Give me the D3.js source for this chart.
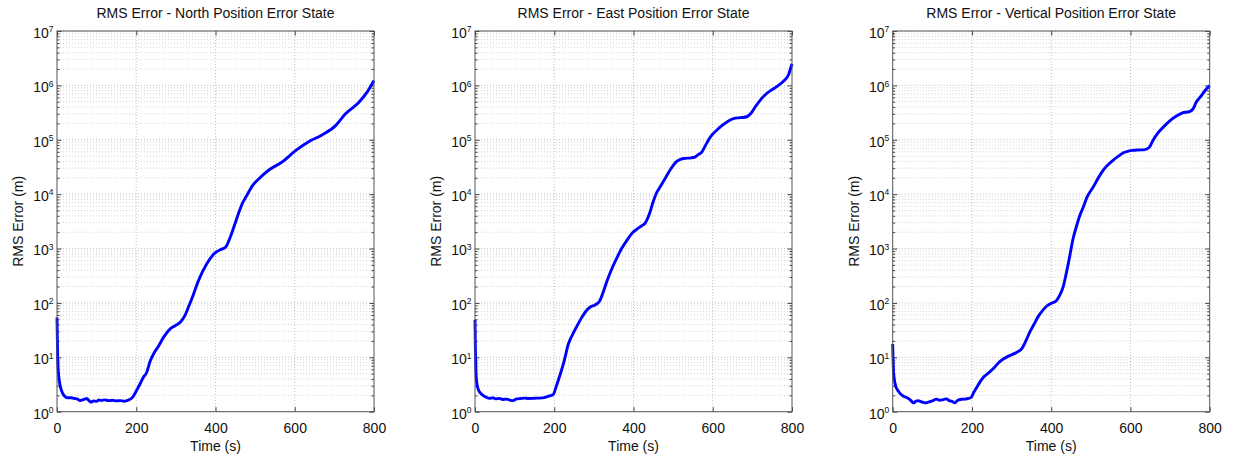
<!DOCTYPE html>
<html lang="en">
<head>
    <meta charset="UTF-8">
    <title>RMS Error</title>
    <style>
        body { margin: 0; background: #fff; }
        text { font-family: "Liberation Sans", Arial, sans-serif; fill: #111; }
        .grid-major { stroke: #b0b0b0; stroke-width: 0.8; stroke-dasharray: 1,2; }
        .grid-minor { stroke: #c8c8c8; stroke-width: 0.8; stroke-dasharray: 1,2; }
        .tick line { stroke: #444; }
        .rms { fill: none; stroke: #0000ff; stroke-width: 2.9; stroke-linejoin: round; }
    </style>
</head>
<body>
<svg id="chart"></svg>
<script src="https://cdnjs.cloudflare.com/ajax/libs/d3/7.8.5/d3.min.js"></script>
<script>
    var width = 1234;
    var height = 464;

    // titles of the three panels
    var titles = ["RMS Error - North Position Error State",
                  "RMS Error - East Position Error State",
                  "RMS Error - Vertical Position Error State"];
    var xTicks = [0, 200, 400, 600, 800];
    var yDecades = [0, 1, 2, 3, 4, 5, 6, 7];

    // north (time s, rms m)
    var northT = [0, 1, 2, 4, 8, 14, 20, 26, 35, 45, 52, 58, 64, 70, 75, 80, 86, 92, 100, 106,
        112, 120, 130, 140, 150, 160, 170, 178, 185, 192, 200, 210, 218, 226, 235, 245, 256, 270,
        285, 298, 311, 323, 332, 340, 357, 378, 399, 412, 425, 437, 448, 458, 468, 479, 494, 509,
        534, 568, 602, 636, 669, 703, 728, 762, 783, 800];
    var northV = [54, 20, 8, 4.8, 3.0, 2.2, 1.9, 1.8, 1.8, 1.75, 1.7, 1.6, 1.65, 1.7, 1.75, 1.62,
        1.5, 1.58, 1.55, 1.65, 1.6, 1.65, 1.6, 1.62, 1.58, 1.6, 1.55, 1.62, 1.7, 1.9, 2.4, 3.3,
        4.3, 5.2, 8.5, 12, 16, 24, 33, 38, 44, 59, 85, 118, 257, 525, 830, 950, 1050, 1600, 2700,
        4400, 6800, 9500, 14500, 19000, 27500, 39000, 63000, 93000, 123000, 182000, 300000,
        490000, 760000, 1230000];

    // east
    var eastT = [0, 1, 2, 4, 8, 14, 20, 28, 37, 45, 52, 61, 70, 80, 90, 96, 105, 115, 125, 135,
        150, 163, 175, 188, 197, 205, 214, 225, 235, 246, 256, 268, 281, 292, 302, 315, 325, 332,
        345, 357, 370, 383, 396, 408, 420, 429, 440, 449, 458, 467, 479, 494, 509, 520, 530, 545,
        555, 563, 572, 584, 597, 610, 623, 637, 652, 670, 686, 697, 707, 722, 736, 751, 766, 779,
        791, 800];
    var eastV = [49, 15, 6.5, 3.6, 2.6, 2.2, 2.0, 1.85, 1.76, 1.8, 1.72, 1.76, 1.68, 1.7, 1.62,
        1.6, 1.72, 1.75, 1.78, 1.75, 1.77, 1.78, 1.82, 1.95, 2.05, 2.9, 4.6, 8.5, 17, 26, 36, 52,
        72, 85, 91, 110, 170, 240, 420, 650, 1000, 1400, 1900, 2250, 2600, 2900, 4300, 7000,
        10500, 13500, 19000, 29000, 40000, 44000, 45500, 46500, 48000, 53000, 59000, 85000,
        120000, 150000, 182000, 215000, 245000, 255000, 265000, 310000, 400000, 560000, 710000,
        850000, 1000000, 1200000, 1550000, 2500000];

    // vertical
    var vertT = [0, 1, 2, 4, 8, 14, 19, 26, 35, 42, 48, 52, 58, 64, 70, 77, 84, 92, 100, 105,
        111, 118, 125, 131, 136, 142, 150, 157, 163, 170, 180, 190, 197, 205, 212, 220, 229, 240,
        254, 266, 279, 292, 308, 318, 325, 336, 346, 357, 367, 378, 388, 400, 413, 422, 430, 438,
        447, 455, 464, 472, 481, 491, 506, 519, 531, 544, 556, 570, 582, 595, 607, 620, 636, 647,
        657, 670, 686, 700, 715, 730, 749, 758, 766, 777, 787, 800];
    var vertV = [17.6, 9, 5.5, 4.0, 2.9, 2.4, 2.15, 1.95, 1.82, 1.7, 1.55, 1.45, 1.55, 1.6, 1.55,
        1.48, 1.45, 1.52, 1.58, 1.65, 1.7, 1.62, 1.65, 1.7, 1.72, 1.6, 1.55, 1.45, 1.6, 1.68, 1.7,
        1.75, 1.8, 2.3, 2.8, 3.5, 4.3, 5.0, 6.2, 7.8, 9.3, 10.5, 11.8, 13, 14.2, 20, 29, 41, 56,
        72, 87, 98, 110, 140, 195, 350, 740, 1500, 2600, 4000, 5800, 9000, 13500, 20000, 27500,
        35000, 42000, 50000, 57500, 62000, 64000, 65000, 66000, 72000, 98000, 135000, 180000,
        225000, 270000, 310000, 330000, 370000, 490000, 620000, 780000, 990000];

    var series = [[northT, northV], [eastT, eastV], [vertT, vertV]];

    var panelLeft = [57, 475, 892.7];
    var plotTop = 31, plotW = 317, plotH = 380.7;

    var svg = d3.select("#chart")
        .attr("width", width)
        .attr("height", height);

    var x = d3.scaleLinear().domain([0, 800]).range([0, plotW]);
    var y = d3.scaleLog().domain([1, 1e7]).range([plotH, 0]);

    var minors = [];
    yDecades.slice(0, -1).forEach(function(d) {
        for (var k = 2; k <= 9; k++) minors.push(k * Math.pow(10, d));
    });
    var majors = yDecades.map(function(d) { return Math.pow(10, d); });

    // put 10^n labels on a y axis
    function powerLabels(sel) {
        sel.selectAll(".tick text").each(function(d) {
            var t = d3.select(this).text(null);
            t.append("tspan").text("10");
            t.append("tspan").attr("dy", "-0.65em").style("font-size", "8.5px")
                .text(Math.round(Math.log10(d)));
        });
    }

    titles.forEach(function(title, i) {
        var g = svg.append("g")
            .attr("transform", "translate(" + panelLeft[i] + "," + plotTop + ")");

        // grid
        g.selectAll(".grid-minor").data(minors).enter().append("line")
            .attr("class", "grid-minor")
            .attr("x1", 0).attr("x2", plotW)
            .attr("y1", function(d) { return y(d); }).attr("y2", function(d) { return y(d); });
        g.selectAll(".grid-major").data(majors).enter().append("line")
            .attr("class", "grid-major")
            .attr("x1", 0).attr("x2", plotW)
            .attr("y1", function(d) { return y(d); }).attr("y2", function(d) { return y(d); });
        g.selectAll(".grid-x").data(xTicks.slice(1, -1)).enter().append("line")
            .attr("class", "grid-major")
            .attr("y1", 0).attr("y2", plotH)
            .attr("x1", function(d) { return x(d); }).attr("x2", function(d) { return x(d); });

        // ticks, inward on all sides
        g.append("g").call(d3.axisLeft(y).tickValues(minors).tickSize(-2.5).tickFormat(""));
        g.append("g").attr("transform", "translate(" + plotW + ",0)")
            .call(d3.axisRight(y).tickValues(minors).tickSize(-2.5).tickFormat(""));
        g.append("g").attr("transform", "translate(" + plotW + ",0)")
            .call(d3.axisRight(y).tickValues(majors).tickSize(-4.5).tickFormat(""));
        g.append("g").call(d3.axisTop(x).tickValues(xTicks).tickSize(-4.5).tickFormat(""));

        var yAxis = g.append("g")
            .call(d3.axisLeft(y).tickValues(majors).tickSize(-4.5).tickPadding(3.5));
        yAxis.selectAll("text").style("font-size", "14px").attr("dy", "0.45em");
        powerLabels(yAxis);

        var xAxis = g.append("g").attr("transform", "translate(0," + plotH + ")")
            .call(d3.axisBottom(x).tickValues(xTicks).tickSize(-4.5).tickPadding(11));
        xAxis.selectAll("text").style("font-size", "14px");

        g.selectAll(".domain").remove();

        // line
        var pts = d3.zip(series[i][0], series[i][1]);
        g.append("path")
            .datum(pts)
            .attr("class", "rms")
            .attr("d", d3.line()
                .curve(d3.curveMonotoneX)
                .x(function(d) { return x(d[0]); })
                .y(function(d) { return y(d[1]); }));

        // box
        g.append("rect")
            .attr("width", plotW).attr("height", plotH)
            .attr("fill", "none").attr("stroke", "#555").attr("stroke-width", 1);

        g.append("text")
            .attr("x", plotW / 2).attr("y", -13)
            .attr("text-anchor", "middle")
            .style("font-size", "14px")
            .text(title);

        g.append("text")
            .attr("x", plotW / 2).attr("y", plotH + 39.5)
            .attr("text-anchor", "middle")
            .style("font-size", "14px")
            .text("Time (s)");

        g.append("text")
            .attr("transform", "translate(-34," + (plotH / 2) + ") rotate(-90)")
            .attr("text-anchor", "middle")
            .style("font-size", "14px")
            .text("RMS Error (m)");
    });
</script>
</body>
</html>
